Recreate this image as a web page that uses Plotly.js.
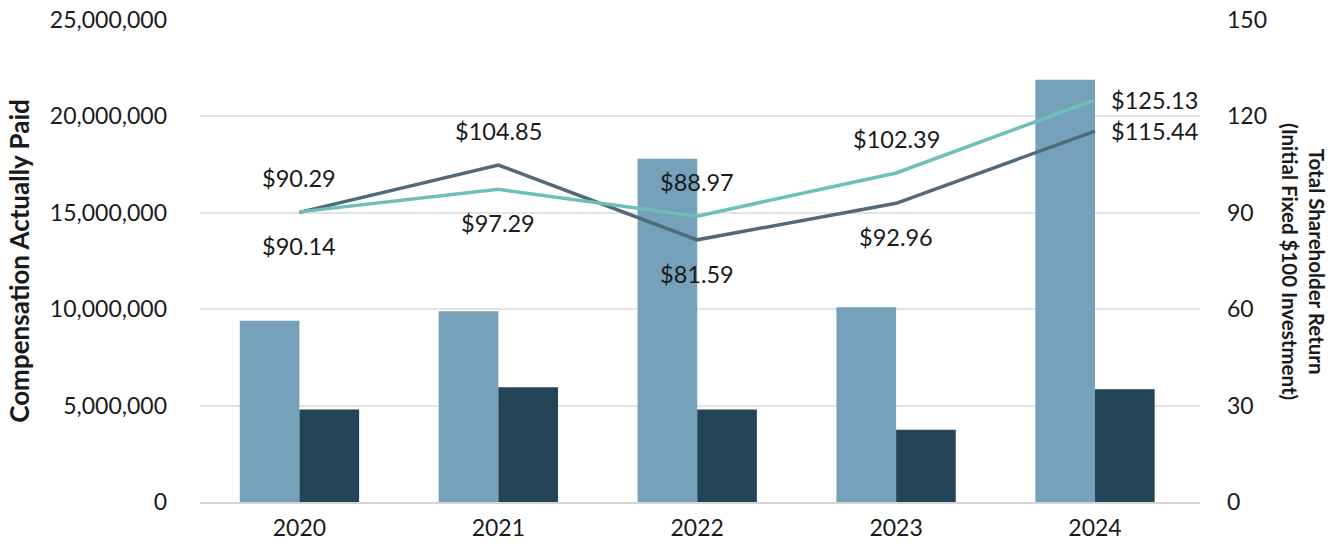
<!DOCTYPE html>
<html>
<head>
<meta charset="utf-8">
<script src="https://cdn.plot.ly/plotly-3.0.1.min.js"></script>
<style>html,body{margin:0;padding:0;background:#fff;}#chart{width:1344px;height:556px;}</style>
</head>
<body>
<div id="chart"></div>
<script>
var years = ['2020', '2021', '2022', '2023', '2024'];
var capCEO = [9400000, 9900000, 17800000, 10100000, 21900000];
var capOther = [4800000, 5950000, 4800000, 3750000, 5850000];
var tsrPeer = [90.29, 97.29, 88.97, 102.39, 125.13];
var tsrCompany = [90.14, 104.85, 81.59, 92.96, 115.44];
var leftTicks = [0, 5000000, 10000000, 15000000, 20000000, 25000000];
var leftTickText = ['0', '5,000,000', '10,000,000', '15,000,000', '20,000,000', '25,000,000'];
var rightTicks = [0, 30, 60, 90, 120, 150];
// label placement: +1 above, -1 below, 0 right
var peerPos = [1, -1, 1, 1, 0];
var companyPos = [-1, 1, -1, -1, 0];

var FONT = 'Lato, "Open Sans", sans-serif';
var TXT = '#1a1a1a';
var TICKFONT = {family: FONT, size: 23, color: TXT, weight: 400};

var traces = [
  {type: 'bar', x: years, y: capCEO, marker: {color: '#75a1bb'}, hoverinfo: 'skip'},
  {type: 'bar', x: years, y: capOther, marker: {color: '#234557'}, hoverinfo: 'skip'},
  {type: 'scatter', mode: 'lines', x: years, y: tsrCompany, yaxis: 'y2', line: {color: '#506a7b', width: 3.5}, hoverinfo: 'skip'},
  {type: 'scatter', mode: 'lines', x: years, y: tsrPeer, yaxis: 'y2', line: {color: '#6dbfb8', width: 3.5}, hoverinfo: 'skip'}
];

function labelAnn(vals, pos) {
  return vals.map(function (v, i) {
    var p = pos[i];
    return {
      x: years[i], y: v, xref: 'x', yref: 'y2',
      text: '$' + v.toFixed(2), showarrow: false,
      xanchor: p === 0 ? 'left' : 'center',
      yanchor: 'middle',
      xshift: p === 0 ? 14 : 0,
      yshift: p * 34,
      font: {family: FONT, size: 23.5, color: TXT, weight: 400}
    };
  });
}

var anns = labelAnn(tsrPeer, peerPos).concat(labelAnn(tsrCompany, companyPos));
anns.push({
  xref: 'paper', yref: 'paper', x: 1.0, y: 0.5, xshift: 104,
  text: 'Total Shareholder Return<br>(Initial Fixed $100 Investment)',
  showarrow: false, textangle: 90, xanchor: 'center', yanchor: 'middle',
  font: {family: FONT, size: 20.5, color: TXT, weight: 'bold'}
});

var layout = {
  width: 1344, height: 556,
  margin: {l: 200, r: 144, t: 20, b: 54},
  paper_bgcolor: '#ffffff', plot_bgcolor: '#ffffff',
  barmode: 'group', bargap: 0.4, bargroupgap: 0,
  showlegend: false,
  font: {family: FONT, size: 20, color: TXT},
  xaxis: {
    automargin: false,
    showgrid: false, showline: true, linecolor: '#d4d4d4', linewidth: 2,
    ticks: '', tickfont: TICKFONT, ticklabelstandoff: 4
  },
  yaxis: {
    automargin: false,
    range: [0, 25000000], tickvals: leftTicks, ticktext: leftTickText,
    showgrid: true, gridcolor: '#e3e3e3', gridwidth: 2, zeroline: false,
    ticks: '', ticklabelstandoff: 32,
    tickfont: TICKFONT,
    title: {text: 'Compensation Actually Paid', standoff: 12, font: {family: FONT, size: 26, color: TXT, weight: 'bold'}}
  },
  yaxis2: {
    automargin: false,
    range: [0, 150], tickvals: rightTicks, overlaying: 'y', side: 'right',
    showgrid: false, zeroline: false, ticks: '', ticklabelstandoff: 26,
    tickfont: TICKFONT
  },
  annotations: anns
};

Plotly.newPlot('chart', traces, layout, {displayModeBar: false, staticPlot: true});
</script>
</body>
</html>
